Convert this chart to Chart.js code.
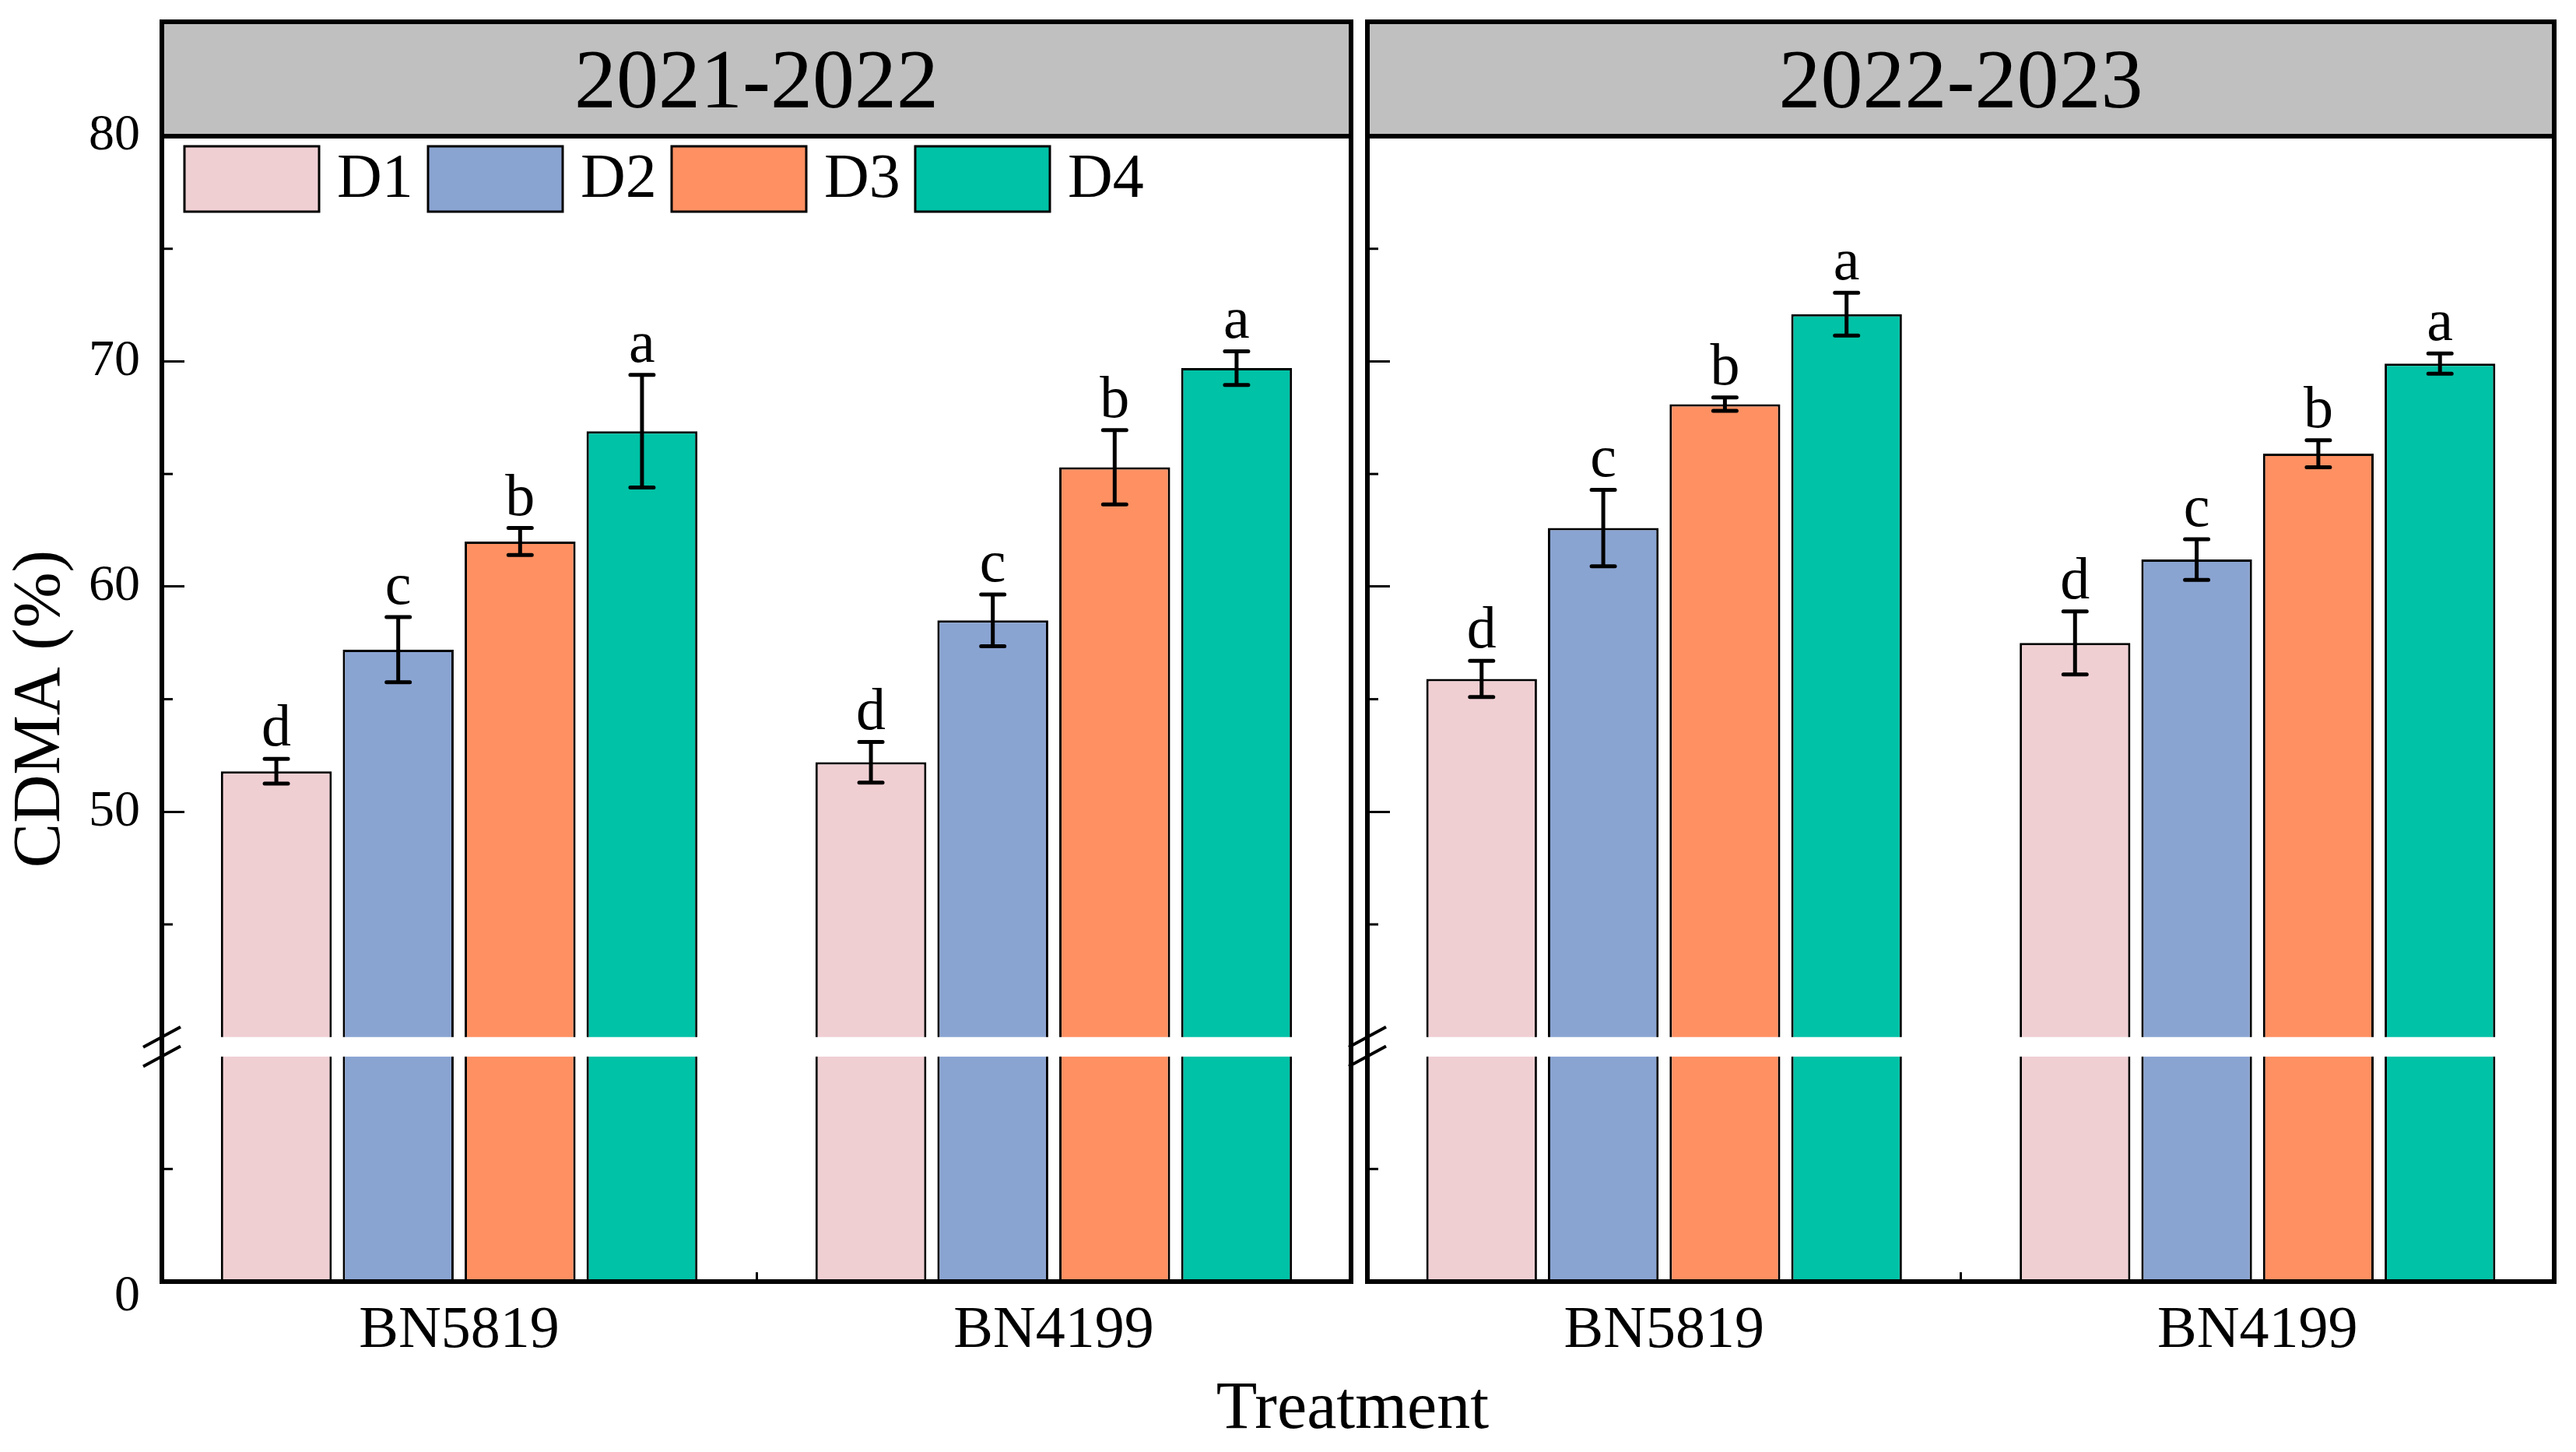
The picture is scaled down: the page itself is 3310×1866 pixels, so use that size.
<!DOCTYPE html>
<html>
<head>
<meta charset="utf-8">
<script src="https://cdn.jsdelivr.net/npm/chart.js@4.4.1/dist/chart.umd.min.js"></script>
<style>
  html, body { margin: 0; padding: 0; background: #fff; }
  body { width: 3310px; height: 1866px; position: relative; overflow: hidden; }
  .panel { position: absolute; top: 0; height: 1866px; }
  #leftBox { left: 0; width: 1746px; }
  #rightBox { left: 1712px; width: 1598px; }
  #xTitle {
    position: absolute; left: 1438px; width: 600px; top: 1754px;
    text-align: center; font: 86px/104px "Liberation Serif", "Times New Roman", serif; color: #000;
  }
</style>
</head>
<body>
<div class="panel" id="leftBox"><canvas id="leftChart"></canvas></div>
<div class="panel" id="rightBox"><canvas id="rightChart"></canvas></div>
<div id="xTitle">Treatment</div>
<script>
const categories = ['BN5819', 'BN4199']
const seriesNames = ['D1', 'D2', 'D3', 'D4']
const colours = ['#F0CFD3', '#8AA4D2', '#FF9062', '#00C2A6']
const seasons = ['2021-2022', '2022-2023']

// one row per series, values for [BN5819, BN4199]
const means2122 = [[51.8, 52.2], [57.2, 58.5], [62.0, 65.3], [66.9, 69.7]]
const errors2122 = [[0.55, 0.9], [1.45, 1.15], [0.6, 1.65], [2.5, 0.75]]
const letters2122 = [['d', 'd'], ['c', 'c'], ['b', 'b'], ['a', 'a']]

const means2223 = [[55.9, 57.5], [62.6, 61.2], [68.1, 65.9], [72.1, 69.9]]
const errors2223 = [[0.8, 1.4], [1.7, 0.9], [0.3, 0.6], [0.95, 0.45]]
const letters2223 = [['d', 'd'], ['c', 'c'], ['b', 'b'], ['a', 'a']]

// broken y axis: 0-40 squeezed below, 40-80 above
const upperTicks = [50, 60, 70, 80]
const upperMinor = [45, 55, 65, 75]
const lowerTicks = [0]
const lowerMinor = [20]
const breakAt = 40
const yMax = 80

const serif = '"Liberation Serif", "Times New Roman", serif'
const ink = '#000'

Chart.defaults.font.family = serif
Chart.defaults.color = ink

function makeDatasets(means) {
  const upper = means.map((vals, i) => ({
    label: seriesNames[i],
    data: vals,
    yAxisID: 'yUp',
    stack: seriesNames[i],
    backgroundColor: colours[i],
    borderColor: ink,
    borderSkipped: false,
    borderWidth: { top: 3, left: 3, right: 3, bottom: 0 }
  }))
  const lower = means.map((vals, i) => ({
    label: seriesNames[i],
    data: vals.map(v => Math.min(v, breakAt)),
    yAxisID: 'yLow',
    stack: seriesNames[i],
    backgroundColor: colours[i],
    borderColor: ink,
    borderSkipped: false,
    borderWidth: { top: 0, left: 3, right: 3, bottom: 0 }
  }))
  return upper.concat(lower)
}

function yAxis(weight, min, max, ticks, showLabels, axisWidth, labelOffset) {
  return {
    type: 'linear',
    position: 'left',
    stack: 'v',
    stackWeight: weight,
    min: min,
    max: max,
    afterBuildTicks: s => { s.ticks = ticks.map(v => ({ value: v })) },
    afterFit: s => { s.width = axisWidth },
    grid: { display: true, drawOnChartArea: false, tickLength: -29, tickWidth: 3, tickColor: ink },
    border: { display: true, color: ink, width: 6 },
    ticks: {
      display: showLabels, padding: 57, labelOffset: labelOffset,
      font: { size: 66 }, color: ink, callback: v => String(v)
    }
  }
}

const panelDecor = {
  id: 'panelDecor',
  afterDatasetsDraw(chart, args, o) {
    const ctx = chart.ctx
    const y = chart.scales.yUp
    ctx.save()
    ctx.strokeStyle = ink
    ctx.fillStyle = ink
    ctx.lineWidth = 5
    ctx.font = '76px ' + serif
    ctx.textAlign = 'center'
    ctx.textBaseline = 'alphabetic'
    o.means.forEach((vals, i) => {
      const meta = chart.getDatasetMeta(i)
      vals.forEach((m, j) => {
        const bx = meta.data[j].x
        const top = y.getPixelForValue(m + o.errors[i][j])
        const bot = y.getPixelForValue(m - o.errors[i][j])
        ctx.lineCap = 'butt'
        ctx.beginPath()
        ctx.moveTo(bx, top)
        ctx.lineTo(bx, bot)
        ctx.stroke()
        ctx.lineCap = 'round'
        ctx.beginPath()
        ctx.moveTo(bx - 15, top)
        ctx.lineTo(bx + 15, top)
        ctx.moveTo(bx - 15, bot)
        ctx.lineTo(bx + 15, bot)
        ctx.stroke()
        ctx.fillText(o.letters[i][j], bx, top - 17)
      })
    })
    ctx.restore()
  },
  afterDraw(chart, args, o) {
    const ctx = chart.ctx
    const a = chart.chartArea
    const up = chart.scales.yUp
    const low = chart.scales.yLow
    const headTop = 28
    ctx.save()
    // grey strip with the season
    ctx.fillStyle = '#C0C0C0'
    ctx.fillRect(a.left, headTop, a.right - a.left, a.top - headTop)
    ctx.lineWidth = 6
    ctx.strokeStyle = ink
    ctx.strokeRect(a.left, headTop, a.right - a.left, a.top - headTop)
    ctx.fillStyle = ink
    ctx.font = '108px ' + serif
    ctx.textAlign = 'center'
    ctx.textBaseline = 'middle'
    ctx.fillText(o.title, (a.left + a.right) / 2, (headTop + a.top) / 2 + 8)

    // right edge of the frame
    ctx.beginPath()
    ctx.moveTo(a.right, a.top)
    ctx.lineTo(a.right, a.bottom + 3)
    ctx.stroke()

    // minor ticks
    ctx.lineWidth = 3
    const minor = (scale, vals) => vals.forEach(v => {
      const p = scale.getPixelForValue(v)
      ctx.beginPath()
      ctx.moveTo(a.left, p)
      ctx.lineTo(a.left + 14, p)
      ctx.stroke()
    })
    minor(up, upperMinor)
    minor(low, lowerMinor)

    // axis break marks
    ctx.lineWidth = 4
    ;[up.bottom, low.top].forEach(p => {
      ctx.beginPath()
      ctx.moveTo(a.left - 24, p + 13)
      ctx.lineTo(a.left + 24, p - 13)
      ctx.stroke()
    })

    if (o.legend) {
      ctx.font = '80px ' + serif
      ctx.textAlign = 'left'
      ctx.textBaseline = 'middle'
      ctx.lineWidth = 3
      seriesNames.forEach((n, i) => {
        const bx = a.left + 29 + i * 313
        const by = a.top + 13
        ctx.fillStyle = colours[i]
        ctx.fillRect(bx, by, 173, 84)
        ctx.strokeRect(bx, by, 173, 84)
        ctx.fillStyle = ink
        ctx.fillText(n, bx + 196, by + 44)
      })
    }

    if (o.yTitle) {
      ctx.translate(53, (a.top + a.bottom) / 2)
      ctx.rotate(-Math.PI / 2)
      ctx.font = '86px ' + serif
      ctx.textAlign = 'center'
      ctx.textBaseline = 'middle'
      ctx.fillStyle = ink
      ctx.fillText(o.yTitle, 0, 0)
    }
    ctx.restore()
  }
}

function makeChart(canvasId, season, means, errors, letters, showLabels, axisWidth, rightPad) {
  return new Chart(document.getElementById(canvasId), {
    type: 'bar',
    data: {
      labels: categories,
      datasets: makeDatasets(means)
    },
    options: {
      responsive: true,
      maintainAspectRatio: false,
      animation: false,
      devicePixelRatio: 1,
      categoryPercentage: 0.82,
      barPercentage: 0.91,
      layout: { padding: { top: 175, right: rightPad, left: 0, bottom: 0 } },
      scales: {
        x: {
          type: 'category',
          offset: true,
          grid: { display: true, drawOnChartArea: false, offset: true, tickLength: -12, tickWidth: 3, tickColor: ink },
          border: { display: true, color: ink, width: 6, z: 1 },
          ticks: { padding: 30, maxRotation: 0, font: { size: 76 }, color: ink },
          afterFit: s => { s.height = 219 }
        },
        yLow: yAxis(10, 0, breakAt, lowerTicks, showLabels, axisWidth, 20),
        yGap: {
          type: 'linear', position: 'left', stack: 'v', stackWeight: 0.86, min: 0, max: 1,
          afterFit: s => { s.width = axisWidth },
          grid: { display: false },
          border: { display: true, color: ink, width: 6 },
          ticks: { display: false }
        },
        yUp: yAxis(yMax - breakAt, breakAt, yMax, upperTicks, showLabels, axisWidth, 0)
      },
      plugins: {
        legend: { display: false },
        tooltip: { enabled: false },
        panelDecor: {
          title: season,
          means: means,
          errors: errors,
          letters: letters,
          legend: showLabels,
          yTitle: showLabels ? 'CDMA (%)' : ''
        }
      }
    },
    plugins: [panelDecor]
  })
}

makeChart('leftChart', seasons[0], means2122, errors2122, letters2122, true, 208, 10)
makeChart('rightChart', seasons[1], means2223, errors2223, letters2223, false, 45, 28)
</script>
</body>
</html>
